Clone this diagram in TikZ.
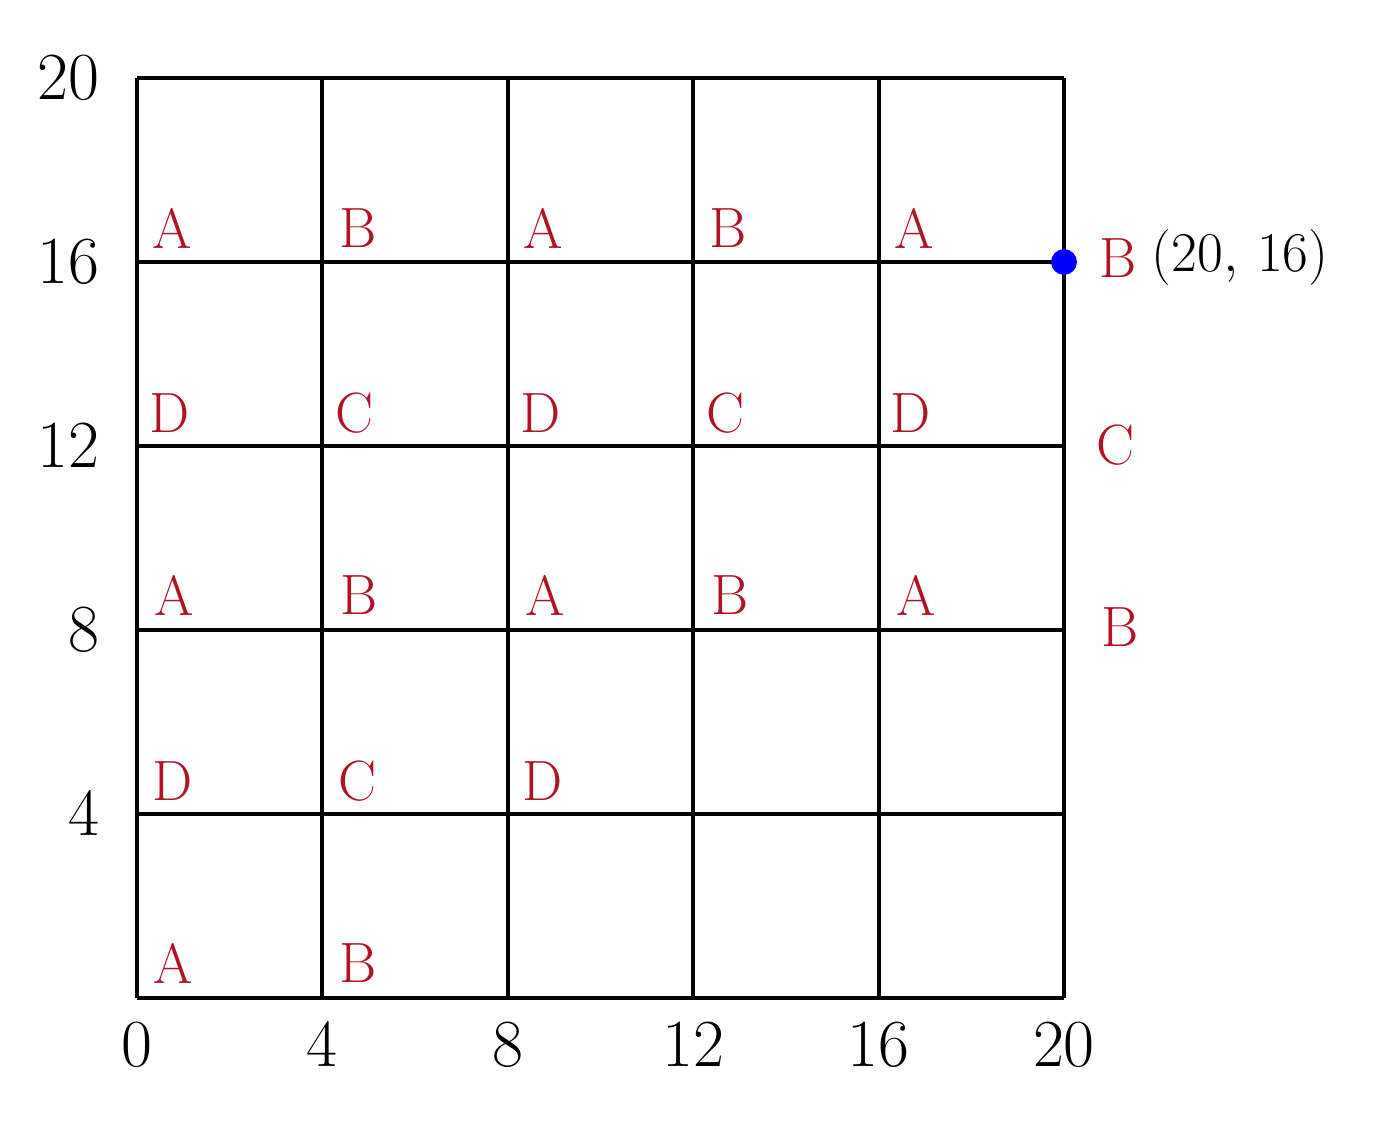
\documentclass[tikz,border=0pt]{standalone}
\usepackage{amsmath}
\usepackage{xcolor}
\usepackage{tikz}
\usetikzlibrary{positioning}
\definecolor{rougeLettre}{rgb}{0.69, 0.07, 0.15}
\definecolor{bleuPoint}{rgb}{0.0, 0.0, 1.0}

\tikzset{
  lettre/.style={text=rougeLettre, inner sep=0pt, font=\fontsize{17.5}{20}\selectfont},
  graduation/.style={inner sep=0pt, font=\fontsize{19.5}{24}\selectfont},
  quadrillage/.style={line width=1.25pt}
}

\begin{document}
\begin{tikzpicture}[x=0.5017cm, y=0.4979cm]
    % Cadre de l'image
    \useasboundingbox (-2.956, -2.848) rectangle (27.098, 21.696);

    % Quadrillage 20 x 20, pas de 4
    \draw[quadrillage] (0, 0) grid[step=4] (20, 20);

    % Graduations horizontales
    \node[graduation] (gx0)  at (0, -1.02)  {$0$};
    \node[graduation] (gx4)  at (4, -1.02)  {$4$};
    \node[graduation] (gx8)  at (8, -1.02)  {$8$};
    \node[graduation] (gx12) at (12, -1.02) {$12$};
    \node[graduation] (gx16) at (16, -1.02) {$16$};
    \node[graduation] (gx20) at (20, -1.02) {$20$};

    % Graduations verticales
    \node[graduation, anchor=east] (gy4)  at (-0.8, 4)  {$4$};
    \node[graduation, anchor=east] (gy8)  at (-0.8, 8)  {$8$};
    \node[graduation, anchor=east] (gy12) at (-0.8, 12) {$12$};
    \node[graduation, anchor=east] (gy16) at (-0.8, 16) {$16$};
    \node[graduation, anchor=east] (gy20) at (-0.8, 20) {$20$};

    % Ligne y = 0
    \node[lettre] (a0)  at (0.78, 0.76) {A};
    \node[lettre] (b0)  at (4.78, 0.76) {B};

    % Ligne y = 4
    \node[lettre] (d4)  at (0.76, 4.72) {D};
    \node[lettre] (c4)  at (4.76, 4.72) {C};
    \node[lettre] (dd4) at (8.76, 4.72) {D};

    % Ligne y = 8
    \node[lettre] (a8)   at (0.80, 8.76)  {A};
    \node[lettre] (b8)   at (4.80, 8.76)  {B};
    \node[lettre] (aa8)  at (8.80, 8.76)  {A};
    \node[lettre] (bb8)  at (12.80, 8.76) {B};
    \node[lettre] (aaa8) at (16.80, 8.76) {A};
    \node[lettre] (bd8)  at (21.20, 8.07) {B};

    % Ligne y = 12
    \node[lettre] (d12)   at (0.70, 12.72)  {D};
    \node[lettre] (c12)   at (4.70, 12.72)  {C};
    \node[lettre] (dd12)  at (8.70, 12.72)  {D};
    \node[lettre] (cc12)  at (12.70, 12.72) {C};
    \node[lettre] (ddd12) at (16.70, 12.72) {D};
    \node[lettre] (cd12)  at (21.10, 12.02) {C};

    % Ligne y = 16
    \node[lettre] (a16)   at (0.76, 16.74)  {A};
    \node[lettre] (b16)   at (4.76, 16.74)  {B};
    \node[lettre] (aa16)  at (8.76, 16.74)  {A};
    \node[lettre] (bb16)  at (12.76, 16.74) {B};
    \node[lettre] (aaa16) at (16.76, 16.74) {A};

    % Point (20, 16)
    \fill[bleuPoint] (20, 16) circle (0.28);
    \node[lettre] (bd16) at (21.17, 16.09) {B};
    \node[graduation, right=0.15cm of bd16, font=\fontsize{18}{22}\selectfont] (coord) {$(20,\,16)$};
\end{tikzpicture}
\end{document}
